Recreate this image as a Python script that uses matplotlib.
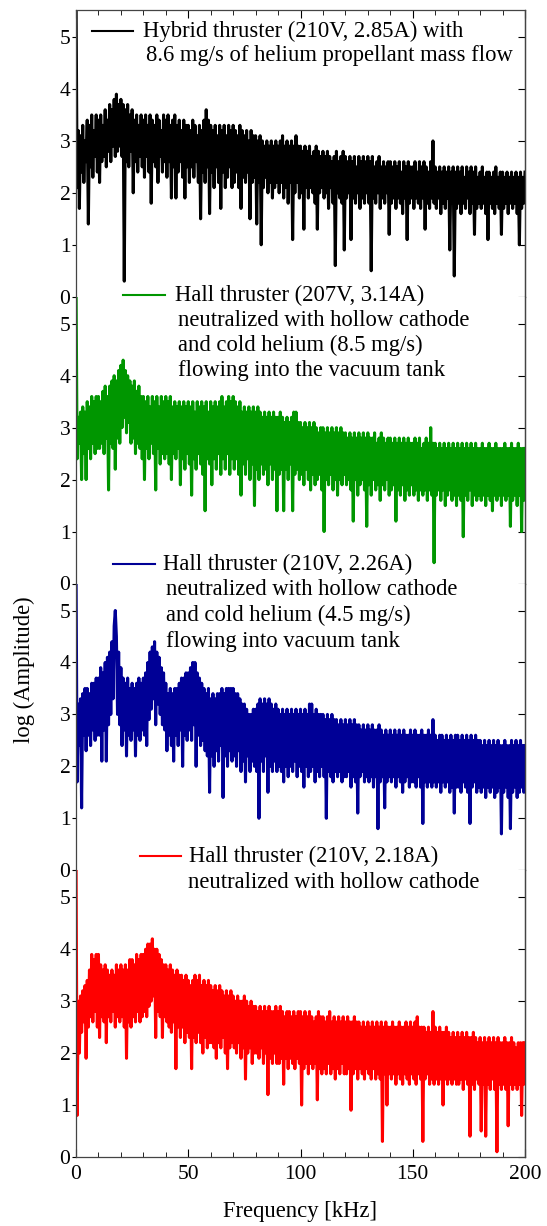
import numpy as np
import matplotlib.pyplot as plt
from matplotlib.lines import Line2D

plt.rcParams['font.family'] = ['Liberation Serif', 'DejaVu Serif']
plt.rcParams['font.size'] = 16
plt.rcParams['path.simplify'] = False

# log(amplitude), in units of 0.1, one value per 0.5 kHz bin
hybrid_he = [
    60, 21, 32, 17, 31, 24, 33, 22, 30, 26, 34, 14, 33, 25, 35, 23, 32, 27, 35, 24,
    34, 22, 35, 26, 33, 27, 36, 25, 34, 28, 37, 26, 36, 29, 38, 27, 39, 28, 37, 29,
    38, 27, 37, 3, 36, 26, 37, 25, 35, 28, 36, 20, 34, 26, 35, 24, 33, 27, 35, 25,
    34, 23, 35, 27, 33, 24, 35, 18, 34, 26, 33, 25, 35, 22, 34, 27, 32, 24, 35, 26,
    34, 23, 35, 26, 33, 19, 34, 25, 35, 19, 33, 24, 34, 26, 32, 23, 34, 19, 33, 25,
    33, 22, 32, 25, 34, 23, 33, 26, 31, 22, 33, 15, 32, 24, 34, 22, 36, 25, 34, 16,
    33, 24, 32, 21, 33, 25, 31, 22, 33, 17, 32, 24, 33, 21, 31, 23, 33, 25, 32, 21,
    33, 22, 32, 24, 31, 21, 33, 17, 32, 23, 31, 22, 32, 24, 30, 15, 32, 22, 31, 23,
    31, 14, 30, 22, 31, 10, 30, 21, 29, 23, 30, 20, 29, 22, 30, 19, 29, 21, 30, 22,
    29, 20, 30, 22, 31, 19, 29, 21, 30, 18, 29, 22, 30, 11, 29, 20, 31, 22, 29, 19,
    29, 20, 28, 13, 29, 21, 28, 19, 29, 21, 27, 20, 28, 18, 29, 13, 28, 20, 27, 21,
    28, 19, 27, 20, 28, 17, 27, 21, 26, 18, 27, 6, 28, 20, 26, 19, 27, 18, 28, 9,
    27, 19, 26, 20, 27, 11, 26, 19, 27, 18, 25, 20, 27, 17, 26, 19, 27, 18, 26, 20,
    27, 18, 26, 5, 27, 19, 25, 18, 26, 20, 27, 17, 25, 19, 26, 18, 25, 20, 26, 12,
    26, 18, 25, 19, 26, 17, 25, 19, 26, 18, 24, 16, 26, 19, 25, 11, 26, 18, 25, 19,
    25, 17, 26, 19, 24, 18, 26, 17, 25, 19, 26, 13, 25, 18, 24, 17, 26, 19, 30, 18,
    25, 17, 24, 19, 25, 16, 24, 18, 25, 17, 24, 19, 25, 9, 24, 18, 25, 4, 24, 17,
    25, 18, 24, 16, 25, 18, 23, 17, 25, 19, 24, 16, 25, 18, 24, 12, 25, 17, 23, 18,
    24, 17, 25, 18, 23, 16, 24, 11, 24, 18, 23, 17, 24, 16, 25, 18, 23, 17, 24, 12,
    24, 17, 23, 18, 24, 16, 23, 18, 24, 17, 23, 18, 24, 16, 23, 10, 24, 17, 23, 18,
    24]

hall_he85 = [
    60, 24, 32, 27, 33, 20, 34, 25, 33, 20, 35, 26, 34, 24, 36, 27, 35, 25, 36, 26,
    36, 26, 35, 27, 37, 25, 38, 28, 36, 18, 38, 27, 39, 26, 40, 22, 39, 28, 41, 27,
    42, 30, 43, 32, 41, 29, 40, 31, 39, 27, 38, 28, 39, 25, 37, 27, 38, 26, 36, 24,
    36, 20, 35, 26, 36, 24, 34, 27, 36, 25, 35, 18, 36, 26, 34, 23, 36, 25, 35, 24,
    36, 25, 35, 23, 36, 20, 34, 25, 35, 24, 34, 26, 35, 19, 34, 24, 35, 22, 34, 25,
    35, 23, 34, 17, 35, 24, 33, 22, 35, 25, 34, 23, 35, 21, 34, 14, 35, 24, 33, 23,
    35, 19, 34, 24, 35, 22, 34, 25, 35, 21, 36, 24, 34, 22, 35, 25, 36, 21, 35, 24,
    36, 22, 35, 24, 34, 21, 35, 17, 33, 23, 34, 21, 33, 24, 34, 20, 33, 23, 34, 15,
    33, 22, 34, 20, 33, 23, 32, 21, 33, 22, 32, 19, 33, 23, 32, 20, 33, 22, 32, 14,
    32, 21, 33, 22, 32, 14, 31, 22, 32, 20, 31, 23, 32, 14, 33, 21, 33, 22, 31, 20,
    31, 21, 30, 19, 31, 22, 30, 20, 31, 18, 30, 21, 31, 19, 30, 20, 29, 21, 30, 18,
    30, 10, 29, 20, 30, 19, 29, 21, 30, 18, 29, 20, 30, 17, 29, 20, 30, 19, 29, 21,
    29, 19, 28, 20, 29, 18, 28, 12, 29, 20, 28, 17, 29, 19, 28, 20, 29, 18, 28, 11,
    29, 19, 28, 17, 28, 20, 29, 18, 27, 19, 28, 16, 29, 19, 28, 18, 27, 20, 28, 17,
    28, 18, 27, 19, 28, 12, 27, 18, 28, 17, 27, 19, 28, 16, 27, 18, 28, 17, 27, 19,
    27, 17, 28, 18, 27, 16, 28, 18, 26, 17, 27, 18, 28, 16, 27, 18, 30, 17, 27, 4,
    27, 17, 26, 18, 27, 16, 26, 18, 27, 15, 26, 17, 27, 18, 26, 16, 27, 17, 26, 15,
    27, 17, 26, 16, 27, 9, 26, 17, 27, 16, 26, 18, 27, 15, 26, 17, 27, 16, 26, 17,
    26, 16, 27, 17, 26, 15, 26, 17, 27, 16, 26, 14, 26, 17, 27, 16, 26, 17, 26, 15,
    26, 17, 27, 16, 26, 17, 26, 11, 27, 16, 26, 17, 26, 15, 27, 17, 26, 10, 26, 16,
    26]

hall_he45 = [
    60, 17, 32, 24, 33, 12, 34, 26, 35, 23, 35, 26, 34, 24, 36, 27, 36, 25, 37, 26,
    37, 26, 39, 21, 38, 27, 40, 21, 41, 28, 42, 30, 44, 33, 47, 50, 45, 30, 42, 28,
    39, 24, 37, 27, 36, 22, 37, 26, 35, 25, 36, 27, 35, 22, 36, 26, 37, 25, 36, 27,
    37, 26, 38, 24, 40, 29, 42, 31, 43, 33, 44, 28, 42, 32, 41, 30, 39, 28, 38, 27,
    36, 23, 34, 26, 35, 24, 34, 21, 35, 26, 35, 24, 36, 27, 37, 20, 37, 26, 38, 25,
    38, 27, 39, 25, 40, 28, 40, 20, 38, 26, 37, 24, 36, 25, 35, 23, 34, 22, 35, 15,
    33, 22, 34, 20, 33, 23, 34, 21, 34, 24, 35, 14, 34, 22, 35, 20, 35, 23, 35, 21,
    35, 22, 34, 20, 34, 23, 33, 19, 32, 21, 32, 17, 31, 22, 30, 19, 30, 21, 31, 20,
    31, 19, 32, 10, 33, 21, 32, 19, 33, 22, 32, 15, 33, 20, 32, 19, 31, 21, 32, 19,
    31, 20, 30, 19, 31, 17, 30, 20, 31, 18, 30, 20, 31, 19, 30, 21, 31, 18, 30, 20,
    31, 19, 30, 16, 31, 20, 30, 18, 32, 19, 32, 20, 30, 17, 31, 19, 30, 18, 30, 20,
    30, 18, 29, 10, 30, 19, 29, 18, 30, 17, 29, 19, 29, 18, 28, 19, 29, 17, 28, 18,
    29, 18, 28, 19, 29, 16, 28, 18, 29, 17, 28, 11, 28, 18, 27, 19, 28, 17, 27, 18,
    28, 17, 27, 18, 28, 16, 27, 18, 27, 8, 28, 17, 27, 18, 26, 12, 27, 17, 26, 18,
    27, 17, 26, 18, 27, 16, 26, 18, 27, 17, 26, 15, 27, 17, 26, 18, 26, 16, 27, 17,
    26, 17, 27, 16, 26, 18, 26, 16, 27, 9, 26, 17, 26, 16, 27, 17, 26, 16, 29, 17,
    26, 16, 25, 17, 26, 15, 26, 17, 25, 16, 26, 17, 25, 15, 26, 16, 25, 11, 26, 16,
    26, 16, 25, 15, 26, 17, 25, 16, 26, 15, 25, 9, 26, 16, 25, 17, 26, 15, 25, 16,
    25, 15, 24, 16, 25, 14, 24, 16, 25, 15, 24, 16, 25, 14, 24, 15, 25, 16, 24, 7,
    24, 15, 25, 16, 24, 14, 24, 8, 25, 15, 24, 16, 25, 14, 24, 15, 25, 16, 24, 15,
    24]

hall_plain = [
    60, 8, 30, 20, 31, 24, 32, 26, 33, 19, 34, 25, 36, 27, 39, 26, 38, 28, 39, 25,
    39, 23, 37, 27, 36, 26, 37, 22, 36, 27, 35, 26, 36, 28, 35, 25, 37, 27, 36, 26,
    37, 27, 36, 25, 37, 19, 36, 26, 38, 25, 38, 27, 37, 26, 39, 28, 38, 26, 39, 27,
    39, 28, 40, 27, 41, 29, 41, 30, 42, 31, 40, 23, 40, 28, 39, 27, 38, 23, 37, 27,
    37, 26, 36, 25, 37, 24, 36, 26, 35, 17, 36, 25, 35, 23, 35, 25, 34, 22, 35, 24,
    34, 23, 33, 17, 34, 23, 35, 22, 34, 24, 35, 22, 33, 20, 34, 23, 33, 21, 34, 22,
    33, 22, 32, 21, 33, 19, 32, 22, 33, 21, 32, 23, 31, 20, 32, 17, 31, 21, 32, 22,
    31, 21, 30, 20, 31, 22, 30, 19, 30, 21, 31, 15, 30, 20, 29, 21, 30, 18, 29, 20,
    29, 20, 28, 19, 29, 21, 28, 18, 29, 20, 28, 12, 29, 19, 28, 18, 28, 20, 29, 18,
    28, 18, 29, 19, 28, 14, 27, 19, 28, 17, 28, 19, 27, 18, 28, 17, 27, 19, 28, 18,
    28, 10, 27, 17, 28, 18, 27, 16, 28, 18, 27, 17, 26, 18, 27, 11, 28, 17, 27, 16,
    27, 17, 26, 16, 27, 18, 28, 16, 26, 17, 27, 15, 26, 17, 27, 16, 26, 18, 27, 16,
    26, 16, 27, 17, 26, 9, 26, 16, 27, 17, 26, 15, 26, 17, 25, 16, 26, 15, 25, 17,
    26, 16, 25, 15, 26, 17, 25, 15, 26, 16, 25, 15, 26, 3, 25, 16, 26, 10, 25, 16,
    25, 15, 26, 16, 25, 14, 25, 16, 26, 15, 25, 14, 25, 16, 26, 15, 25, 14, 26, 16,
    25, 15, 26, 14, 27, 16, 25, 15, 25, 3, 25, 15, 24, 16, 25, 14, 24, 15, 28, 14,
    25, 15, 24, 14, 25, 15, 24, 10, 24, 15, 25, 14, 24, 15, 23, 14, 24, 15, 23, 14,
    24, 14, 23, 15, 24, 13, 23, 15, 24, 14, 23, 4, 23, 14, 24, 13, 23, 15, 22, 14,
    23, 5, 22, 14, 23, 4, 22, 14, 23, 13, 22, 15, 23, 13, 22, 1, 23, 14, 22, 13,
    22, 14, 23, 13, 22, 6, 22, 14, 23, 13, 22, 14, 21, 13, 22, 14, 22, 8, 22, 14,
    22]

bin_khz = 0.5

colors = ['black', '#009600', '#000096', '#ff0000']
labels = [
    ['Hybrid thruster (210V, 2.85A) with', '8.6 mg/s of helium propellant mass flow'],
    ['Hall thruster (207V, 3.14A)', 'neutralized with hollow cathode',
     'and cold helium (8.5 mg/s)', 'flowing into the vacuum tank'],
    ['Hall thruster (210V, 2.26A)', 'neutralized with hollow cathode',
     'and cold helium (4.5 mg/s)', 'flowing into vacuum tank'],
    ['Hall thruster (210V, 2.18A)', 'neutralized with hollow cathode'],
]
spectra = [hybrid_he, hall_he85, hall_he45, hall_plain]

W, H = 547, 1226
fig, axes = plt.subplots(4, 1, sharex=True, figsize=(W / 100, H / 100), dpi=100,
                         gridspec_kw={'hspace': 0})
fig.subplots_adjust(left=76 / W, right=525 / W, top=1 - 10 / H, bottom=1 - 1157 / H)

for k, ax in enumerate(axes):
    amp = np.array(spectra[k]) / 10.0
    freq = np.arange(len(amp)) * bin_khz
    ax.plot(freq, amp, color=colors[k], lw=2.2, snap=False)
    ax.set_xlim(0, 200)
    ax.set_ylim(0, 5.52)
    ax.set_yticks(range(6))
    ax.tick_params(axis='y', direction='out', length=3, pad=1, labelsize=15.5)
    sec = ax.secondary_yaxis('right')
    sec.set_yticks(range(6))
    sec.tick_params(direction='in', length=5, labelright=False)
    for s in ax.spines.values():
        s.set_color('#444444')
        s.set_linewidth(0.9)
    sec.spines['right'].set_color('#444444')
    sec.spines['right'].set_linewidth(0.9)
    if k > 0:
        ax.spines['top'].set_visible(False)
    if k < 3:
        ax.spines['bottom'].set_visible(False)
    ax.set_xticks([0, 50, 100, 150, 200])
    ax.set_xticks(np.arange(0, 201, 10), minor=True)
    ax.tick_params(axis='x', which='both', direction='in', top=(k == 0),
                   bottom=(k == 3), labelbottom=(k == 3), labelsize=15.5, pad=6)
    ax.tick_params(axis='x', which='major', length=6)
    ax.tick_params(axis='x', which='minor', length=3.5)

# legend entries: handle start/end, first-line y, text x, line spacing, indent (pixels)
legend_pos = [(92, 133, 31, 143, 24, 3),
              (123, 165, 295, 175, 25.3, 3),
              (113, 155, 564, 163, 25.8, 3),
              (140, 181, 856, 189, 26, -1)]
for k, (x0, x1, y0, tx, dy, ind) in enumerate(legend_pos):
    fig.add_artist(Line2D([x0 / W, x1 / W], [1 - y0 / H] * 2,
                          transform=fig.transFigure, color=colors[k], lw=1.5))
    for j, line in enumerate(labels[k]):
        x = tx + (ind if j > 0 else 0)
        fig.text(x / W, 1 - (y0 + j * dy) / H, line, ha='left', va='center',
                 fontsize=16.3)

fig.text(300 / W, 1 - 1212 / H, 'Frequency [kHz]', ha='center', va='center', fontsize=16.3)
fig.text(24 / W, 1 - 670 / H, 'log (Amplitude)', rotation=90, ha='center',
         va='center', fontsize=16.3)

fig.savefig('out.png', dpi=100)
